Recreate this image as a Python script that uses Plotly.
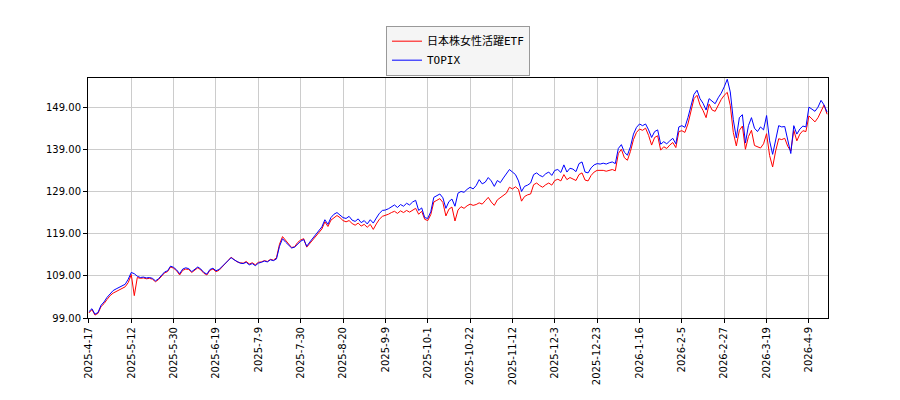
import plotly.graph_objects as go

# tick labels (one every 14 trading days)
tick_labels = ['2025-4-17', '2025-5-12', '2025-5-30', '2025-6-19', '2025-7-9', '2025-7-30',
               '2025-8-20', '2025-9-9', '2025-10-1', '2025-10-22', '2025-11-12', '2025-12-3',
               '2025-12-23', '2026-1-16', '2026-2-5', '2026-2-27', '2026-3-19', '2026-4-9']

topix = [
    100.5, 101.2, 99.9, 100.3, 102.0, 102.8, 103.9, 104.8, 105.5, 105.9, 106.3, 106.8, 107.0, 108.2, 109.8,
    109.5, 108.9, 108.6, 108.7, 108.5, 108.6, 108.4, 107.8, 108.3, 109.0, 109.9, 110.2, 111.3, 111.0,
    110.4, 109.5, 110.6, 110.9, 110.7, 110.0, 110.5, 111.1, 110.6, 109.8, 109.4, 110.5, 110.8, 110.2,
    110.5, 111.2, 111.8, 112.6, 113.3, 112.8, 112.3, 112.0, 111.9, 112.2, 111.6, 111.9, 111.4, 112.0,
    112.2, 112.5, 112.3, 112.8, 112.6, 113.0, 116.0, 117.8, 117.0, 116.3, 115.6, 115.8, 116.6, 117.2,
    117.6, 116.0, 117.0, 117.9, 118.8, 119.6, 120.6, 122.3, 121.2, 122.8, 123.6, 124.0, 123.4, 122.8,
    122.6, 123.1, 122.2, 121.9, 122.5, 121.6, 122.1, 121.3, 122.3, 121.5, 122.7, 123.8, 124.5, 124.6,
    124.9, 125.4, 125.8, 125.2, 125.9, 125.5, 126.2, 125.8, 126.5, 126.9, 124.5, 125.1, 122.8, 122.6, 124.2,
    127.6, 128.0, 128.4, 127.5, 125.0, 126.6, 127.2, 125.5, 128.6, 129.0, 128.8, 129.5, 130.0, 129.6,
    130.4, 131.8, 130.8, 131.2, 132.3, 131.5, 130.2, 131.6, 131.1, 132.2, 133.1, 134.2, 133.6, 133.0,
    131.5, 129.0, 130.2, 130.5, 131.0, 133.0, 133.4, 132.8, 132.5, 133.2, 133.6, 132.8, 134.0, 134.2,
    133.5, 135.3, 133.6, 134.5, 134.3, 133.7, 135.6, 136.0, 133.6, 133.4, 134.6, 135.3, 135.6, 135.5,
    135.7, 135.5, 135.8, 136.0, 135.6, 139.2, 140.1, 138.3, 137.6, 139.6, 142.6, 144.2, 145.0, 144.6,
    145.0, 143.6, 141.8, 143.2, 143.6, 140.2, 140.8, 140.3, 141.0, 141.6, 140.3, 144.3, 144.6, 144.2,
    146.5, 149.5, 152.0, 153.0, 151.0, 149.9, 148.3, 151.0, 150.5, 149.8, 151.2, 152.3, 153.8, 155.6,
    152.6, 146.0, 141.7, 146.5, 147.2, 140.5, 144.6, 146.5, 144.0, 143.2, 144.3, 143.6, 147.0, 141.0,
    137.8, 141.0, 144.6, 144.3, 144.4, 141.2, 138.0, 144.6, 142.6, 143.8, 144.5, 144.3, 149.0, 148.5,
    148.0, 149.0, 150.6, 149.5, 147.8,
]

etf = [
    100.2, 101.0, 99.7, 100.1, 101.7, 102.4, 103.4, 104.3, 104.9, 105.3, 105.6, 106.2, 106.4, 107.4, 109.3,
    104.3, 108.6, 108.4, 108.5, 108.3, 108.4, 108.2, 107.6, 108.1, 108.8, 109.7, 110.0, 111.1, 110.8,
    110.2, 109.2, 110.3, 110.6, 110.5, 109.8, 110.3, 110.9, 110.4, 109.6, 109.2, 110.3, 110.6, 110.0,
    110.3, 111.0, 111.7, 112.6, 113.4, 112.9, 112.3, 112.1, 112.0, 112.4, 111.8, 112.1, 111.6, 112.2,
    112.3, 112.6, 112.4, 112.9, 112.7, 113.3, 116.5, 118.3, 117.4, 116.5, 115.7, 115.9, 116.9, 117.5,
    117.8, 115.8, 116.7, 117.6, 118.4, 119.2, 120.1, 121.8, 120.7, 122.2, 122.8, 123.3, 122.8, 122.1,
    121.8, 122.1, 121.4, 121.0, 121.5, 120.8, 121.2, 120.5, 121.2, 120.0, 121.3, 122.4, 123.1, 123.3,
    123.6, 124.0, 124.3, 123.8, 124.4, 124.0, 124.5, 124.1, 124.6, 125.0, 123.6, 124.3, 122.4, 122.1, 123.5,
    126.5, 126.9, 127.3, 126.4, 123.2, 124.8, 125.3, 122.0, 124.6, 125.4, 125.0, 125.6, 126.0, 125.7,
    125.9, 126.3, 126.0, 126.8, 127.6, 126.5, 125.7, 127.0, 127.5, 127.9, 128.6, 130.0, 129.6, 130.1,
    129.5, 126.7, 127.8, 128.2, 128.4, 130.6, 131.0, 130.4, 130.0, 130.6, 131.0, 130.5, 131.6, 131.9,
    131.5, 133.0, 131.8, 132.3, 132.0, 131.6, 133.0, 133.4, 131.7, 131.5, 132.8, 133.6, 134.0, 134.0,
    134.0, 133.8, 134.0, 134.2, 133.9, 138.0, 139.0, 137.0, 136.4, 138.5, 141.3, 143.0, 143.8, 143.5,
    144.0, 142.3, 140.0, 141.8, 142.2, 138.8, 139.6, 139.2, 140.0, 140.6, 139.4, 143.2, 143.4, 143.0,
    145.0, 148.3, 151.0, 151.8, 149.5, 148.2, 146.5, 149.7, 148.3, 148.0, 149.5, 150.8, 151.8, 152.5,
    149.4, 143.0, 139.8, 143.5, 144.5, 139.0, 142.0, 143.5, 139.9, 139.6, 139.3, 140.3, 142.7, 137.5,
    134.8, 138.6, 141.5, 141.3, 141.6, 139.7, 138.6, 143.5, 141.0, 142.6, 143.4, 143.2, 146.9, 146.2,
    145.5, 146.5, 148.0, 149.5, 147.3,
]

n = min(len(topix), len(etf))
x = list(range(n))
tick_pos = [i * 14 for i in range(len(tick_labels))]
y_ticks = [99, 109, 119, 129, 139, 149]

fig = go.Figure()
fig.add_trace(go.Scatter(x=x, y=etf[:n], mode='lines', name='日本株女性活躍ETF',
                         line=dict(color='red', width=1)))
fig.add_trace(go.Scatter(x=x, y=topix[:n], mode='lines', name='TOPIX',
                         line=dict(color='blue', width=1)))

axis_style = dict(showline=True, linecolor='black', mirror=True, ticks='outside',
                  ticklen=4, tickcolor='black', showgrid=True, gridcolor='#cccccc',
                  zeroline=False)

fig.update_xaxes(range=[-0.3, n - 0.7], tickvals=tick_pos, ticktext=tick_labels,
                 tickangle=-90, **axis_style)
fig.update_yaxes(range=[99, 155.9], tickvals=y_ticks,
                 ticktext=[f'{v:.2f}' for v in y_ticks], **axis_style)

fig.update_layout(
    width=900, height=400,
    margin=dict(l=80, r=80, t=70, b=90, autoexpand=False),
    plot_bgcolor='white', paper_bgcolor='white',
    font=dict(family='DejaVu Sans, Noto Sans CJK JP', size=10, color='black'),
    showlegend=True,
    legend=dict(x=0.5, y=1.218, xanchor='center', yanchor='top',
                bgcolor='#f5f5f5', bordercolor='#999999', borderwidth=1,
                font=dict(family='DejaVu Sans Mono, Noto Sans CJK JP', size=11)),
)

fig.write_html("out.html")
